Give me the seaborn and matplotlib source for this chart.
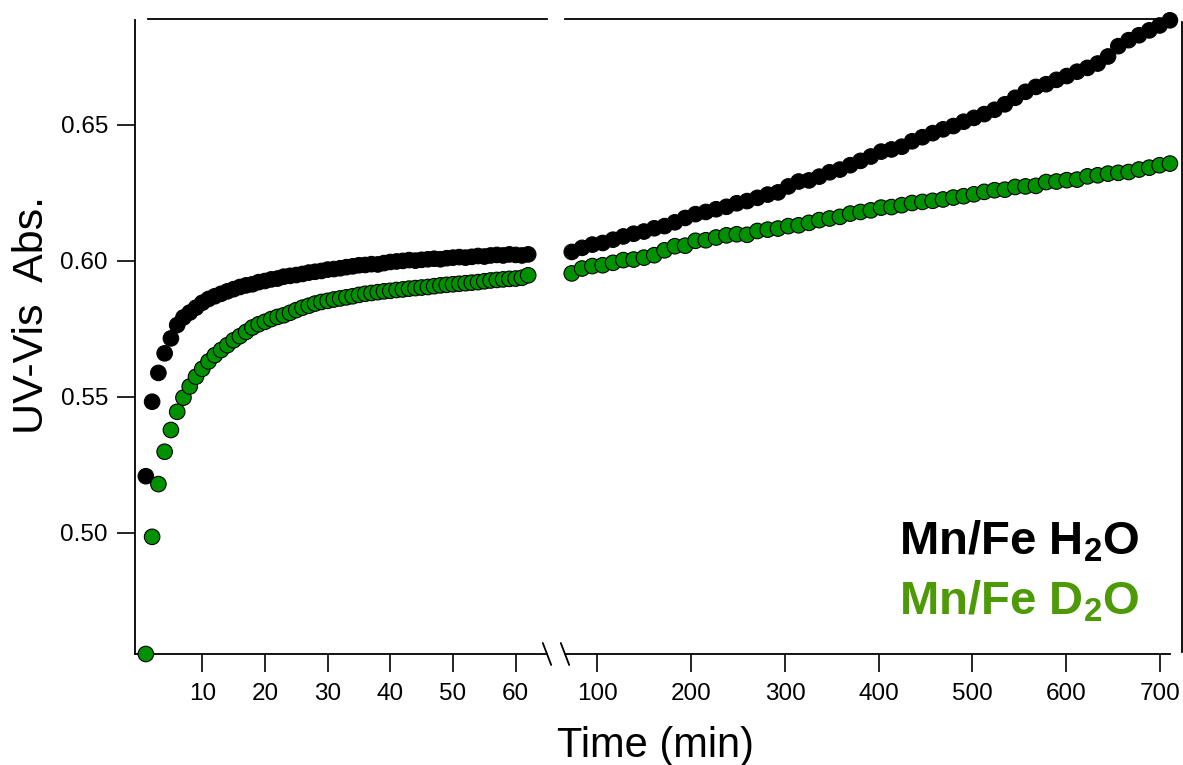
import matplotlib
matplotlib.use("Agg")
import matplotlib.pyplot as plt
from matplotlib.lines import Line2D
import numpy as np
import pandas as pd
import seaborn as sns

# ---------------- data ----------------
time_early = [1, 2, 3, 4, 5, 6, 7, 8, 9, 10, 11, 12, 13, 14, 15, 16, 17, 18, 19, 20,
              21, 22, 23, 24, 25, 26, 27, 28, 29, 30, 31, 32, 33, 34, 35, 36, 37, 38, 39, 40,
              41, 42, 43, 44, 45, 46, 47, 48, 49, 50, 51, 52, 53, 54, 55, 56, 57, 58, 59, 60,
              61, 62]
h2o_early = [0.5208, 0.5482, 0.5588, 0.5660, 0.5715, 0.5764, 0.5792, 0.5810, 0.5828, 0.5846,
             0.5860, 0.5870, 0.5879, 0.5888, 0.5896, 0.5904, 0.5910, 0.5914, 0.5922, 0.5926,
             0.5932, 0.5935, 0.5942, 0.5945, 0.5948, 0.5952, 0.5957, 0.5960, 0.5963, 0.5968,
             0.5970, 0.5973, 0.5977, 0.5980, 0.5984, 0.5985, 0.5988, 0.5987, 0.5992, 0.5996,
             0.5998, 0.6000, 0.6003, 0.6001, 0.6004, 0.6006, 0.6008, 0.6006, 0.6010, 0.6012,
             0.6014, 0.6012, 0.6015, 0.6018, 0.6016, 0.6020, 0.6022, 0.6020, 0.6024, 0.6022,
             0.6020, 0.6024]
d2o_early = [0.4554, 0.4985, 0.5179, 0.5298, 0.5378, 0.5445, 0.5497, 0.5538, 0.5574, 0.5603,
             0.5630, 0.5653, 0.5672, 0.5690, 0.5708, 0.5723, 0.5739, 0.5755, 0.5767, 0.5776,
             0.5786, 0.5794, 0.5800, 0.5809, 0.5819, 0.5828, 0.5835, 0.5843, 0.5849, 0.5853,
             0.5858, 0.5862, 0.5866, 0.5870, 0.5875, 0.5879, 0.5882, 0.5885, 0.5888, 0.5890,
             0.5893, 0.5895, 0.5898, 0.5900, 0.5902, 0.5904, 0.5907, 0.5910, 0.5912, 0.5914,
             0.5916, 0.5918, 0.5920, 0.5922, 0.5925, 0.5928, 0.5930, 0.5932, 0.5934, 0.5935,
             0.5938, 0.5947]

time_late = [72.6, 83.6, 94.6, 105.6, 116.6, 127.6, 138.6, 149.6, 160.6, 171.6,
             182.6, 193.6, 204.6, 215.6, 226.6, 237.6, 248.6, 259.6, 270.6, 281.6,
             292.6, 303.6, 314.6, 325.6, 336.6, 347.6, 358.6, 369.6, 380.6, 391.6,
             402.6, 413.6, 424.6, 435.6, 446.6, 457.6, 468.6, 479.6, 490.6, 501.6,
             512.6, 523.6, 534.6, 545.6, 556.6, 567.6, 578.6, 589.6, 600.6, 611.6,
             622.6, 633.6, 644.6, 655.6, 666.6, 677.6, 688.6, 699.6, 710.6]
h2o_late = [0.6033, 0.6048, 0.6060, 0.6066, 0.6078, 0.6090, 0.6100, 0.6108, 0.6120, 0.6128,
            0.6142, 0.6158, 0.6172, 0.6180, 0.6190, 0.6199, 0.6212, 0.6220, 0.6232, 0.6244,
            0.6252, 0.6274, 0.6292, 0.6296, 0.6310, 0.6326, 0.6336, 0.6352, 0.6368, 0.6384,
            0.6402, 0.6410, 0.6420, 0.6440, 0.6455, 0.6470, 0.6484, 0.6496, 0.6512, 0.6526,
            0.6540, 0.6556, 0.6576, 0.6600, 0.6622, 0.6640, 0.6650, 0.6666, 0.6680, 0.6696,
            0.6710, 0.6726, 0.6752, 0.6790, 0.6812, 0.6830, 0.6848, 0.6866, 0.6885]
d2o_late = [0.5954, 0.5972, 0.5981, 0.5984, 0.5993, 0.6003, 0.6005, 0.6012, 0.6021, 0.6039,
            0.6054, 0.6056, 0.6074, 0.6076, 0.6086, 0.6094, 0.6098, 0.6096, 0.6110, 0.6115,
            0.6119, 0.6128, 0.6131, 0.6140, 0.6150, 0.6156, 0.6162, 0.6174, 0.6180, 0.6186,
            0.6196, 0.6198, 0.6205, 0.6213, 0.6217, 0.6221, 0.6226, 0.6233, 0.6238, 0.6245,
            0.6254, 0.6260, 0.6262, 0.6272, 0.6274, 0.6276, 0.6290, 0.6292, 0.6297, 0.6299,
            0.6311, 0.6315, 0.6321, 0.6324, 0.6327, 0.6336, 0.6343, 0.6352, 0.6358]

series_names = ["Mn/Fe H2O", "Mn/Fe D2O"]
xticks_early = [10, 20, 30, 40, 50, 60]
xticks_late = [100, 200, 300, 400, 500, 600, 700]
yticks = [0.50, 0.55, 0.60, 0.65]

# ---------------- style ----------------
sns.set_style("ticks")
plt.rcParams["font.family"] = ["Liberation Sans", "DejaVu Sans"]
plt.rcParams["text.color"] = "black"
plt.rcParams["axes.labelcolor"] = "black"
plt.rcParams["xtick.color"] = "black"
plt.rcParams["ytick.color"] = "black"
plt.rcParams["mathtext.fontset"] = "custom"
plt.rcParams["mathtext.rm"] = "Liberation Sans:bold"
plt.rcParams["mathtext.it"] = "Liberation Sans:bold"
plt.rcParams["mathtext.bf"] = "Liberation Sans:bold"

W, H = 1183, 765
fig = plt.figure(figsize=(W / 100, H / 100), dpi=100)
axL = fig.add_axes([135 / W, 1 - 654 / H, 412 / W, 634.5 / H])
axR = fig.add_axes([565 / W, 1 - 654 / H, 605 / W, 634.5 / H])

palette = {series_names[0]: "black", series_names[1]: "#009100"}


def long_df(t, a, b):
    return pd.concat([
        pd.DataFrame({"time": t, "abs": a, "series": series_names[0]}),
        pd.DataFrame({"time": t, "abs": b, "series": series_names[1]}),
    ], ignore_index=True)


df_early = long_df(time_early, h2o_early, d2o_early)
df_late = long_df(time_late, h2o_late, d2o_late)

for ax, df in [(axL, df_early), (axR, df_late)]:
    sns.scatterplot(data=df, x="time", y="abs", hue="series", palette=palette,
                    s=125, edgecolor="black", linewidth=0.8, legend=False,
                    clip_on=False, ax=ax, zorder=3)

ylim = (0.4554, 0.6888)
axL.set_xlim(-0.73, 65.0)
axR.set_xlim(65.4, 710.7)
for ax in (axL, axR):
    ax.set_ylim(*ylim)
    ax.set_xlabel("")
    ax.set_ylabel("")
    for sp in ax.spines.values():
        sp.set_linewidth(1.3)
        sp.set_color("black")
    ax.tick_params(axis="both", direction="out", length=13, width=1.2,
                   labelsize=17.5, colors="black")
    ax.tick_params(axis="x", pad=8)
    ax.tick_params(axis="y", pad=6.5)

axL.set_xticks(xticks_early)
axL.set_yticks(yticks)
axL.set_yticklabels([f"{v:.2f}" for v in yticks])
axL.spines["right"].set_visible(False)
axL.spines["top"].set_bounds(1.34, 65.0)

axR.set_xticks(xticks_late)
axR.set_yticks([])
axR.spines["left"].set_visible(False)
axR.spines["top"].set_bounds(65.4, 718.0)
axR.spines["right"].set_position(("outward", 8.6))
axR.spines["right"].set_bounds(0.4562, 0.6877)
axR.tick_params(axis="y", left=False, right=False, labelleft=False)

# axis titles
axL.set_ylabel("UV-Vis  Abs.", fontsize=31, color="black")
axL.yaxis.label.set_va("baseline")
axL.yaxis.set_label_coords(-0.2226, 0.534)
axR.set_xlabel("Time (min)", fontsize=30, color="black")
axR.xaxis.label.set_va("baseline")
axR.xaxis.set_label_coords(0.149, -(757 - 654) / 634.5)

# in-plot labels
axR.text(0.9504, (654 - 555) / 634.5, "Mn/Fe H$_2$O", transform=axR.transAxes,
         ha="right", va="baseline", fontsize=34, fontweight="bold", color="black")
axR.text(0.9504, (654 - 615) / 634.5, "Mn/Fe D$_2$O", transform=axR.transAxes,
         ha="right", va="baseline", fontsize=34, fontweight="bold", color="#4d9a06")

# axis-break marks
pL = axL.get_position()
pR = axR.get_position()
dx, dy = 4.2 / W, 11 / H
for cx in (pL.x1, pR.x0):
    cy = pL.y0
    fig.add_artist(Line2D([cx - dx, cx + dx], [cy + dy, cy - dy], color="black",
                          linewidth=1.3, transform=fig.transFigure))

fig.savefig("out.png", dpi=100)
